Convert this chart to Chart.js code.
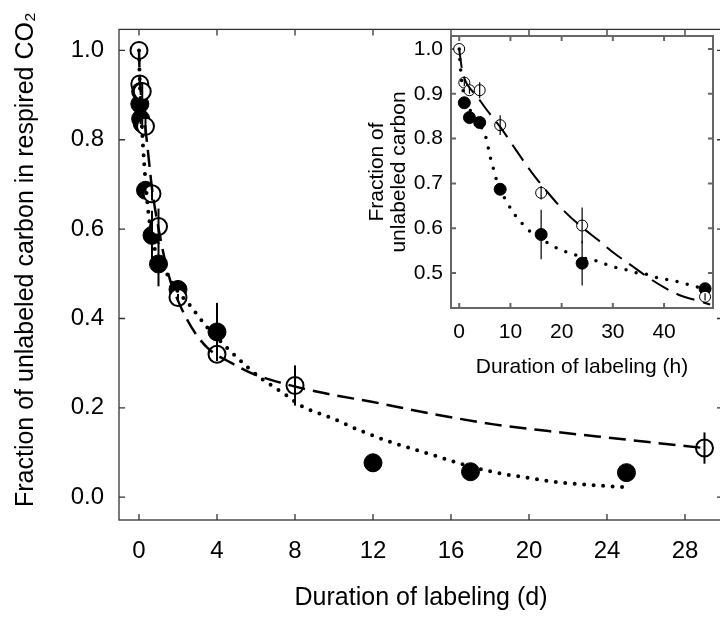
<!DOCTYPE html>
<html>
<head>
<meta charset="utf-8">
<script src="https://cdn.jsdelivr.net/npm/chart.js@4.4.1/dist/chart.umd.min.js"></script>
<style>
  html, body { margin: 0; padding: 0; background: #fff; overflow: hidden; }
  #wrap { position: relative; width: 720px; height: 617px; overflow: hidden; }
  #main { position: absolute; left: 0; top: 0; }
  #inset { position: absolute; left: 340px; top: 0; }
</style>
</head>
<body>
<div id="wrap">
  <canvas id="main" width="740" height="617"></canvas>
  <canvas id="inset" width="380" height="390"></canvas>
</div>
<script>
// hourly sampling (first two days), open = one treatment, filled = the other
const openHours = [0, 1, 2, 4, 8, 16, 24, 48]
const openHourFrac = [1.0, 0.925, 0.908, 0.908, 0.83, 0.679, 0.606, 0.447]
const openHourErr = [0, 0.008, 0.008, 0.018, 0.022, 0.015, 0.04, 0.008]
const filledHours = [1, 2, 4, 8, 16, 24, 48]
const filledHourFrac = [0.88, 0.847, 0.836, 0.687, 0.586, 0.522, 0.465]
const filledHourErr = [0.01, 0.012, 0.012, 0.01, 0.055, 0.05, 0.006]

// later sampling, in days
const openDays = [4, 8, 29]
const openDayFrac = [0.32, 0.25, 0.11]
const openDayErr = [0.015, 0.045, 0.035]
const filledDays = [4, 12, 17, 25]
const filledDayFrac = [0.37, 0.077, 0.057, 0.055]
const filledDayErr = [0.065, 0.02, 0.01, 0.005]

// fitted curves, days
const dashDays = [0, 0.04, 0.08, 0.17, 0.33, 0.5, 0.67, 1, 1.5, 2, 2.5, 3, 3.5, 4, 4.5, 5.7, 7.2, 9.6, 12, 15, 18.2, 21, 23.5, 26, 29]
const dashDayFrac = [1.0, 0.935, 0.914, 0.886, 0.826, 0.757, 0.69, 0.602, 0.5, 0.44, 0.395, 0.36, 0.335, 0.318, 0.306, 0.279, 0.257, 0.232, 0.213, 0.187, 0.163, 0.148, 0.136, 0.124, 0.11]
const dotDays = [0, 0.04, 0.1, 0.2, 0.33, 0.5, 0.75, 1, 1.5, 2, 2.6, 3.5, 4.5, 5.6, 6.3, 7.5, 8.3, 10, 11.3, 13, 14.8, 16.5, 18.2, 20, 21.6, 23.3, 25]
const dotDayFrac = [1.0, 0.93, 0.87, 0.79, 0.71, 0.63, 0.565, 0.535, 0.495, 0.46, 0.43, 0.38, 0.335, 0.29, 0.265, 0.23, 0.205, 0.175, 0.15, 0.122, 0.098, 0.075, 0.056, 0.043, 0.033, 0.027, 0.022]

// fitted curves, hours
const dashHours = [0, 0.5, 1, 1.5, 2, 3, 4, 5, 6, 8, 11, 14, 17.5, 20.7, 24, 27.2, 30.4, 33.6, 36.8, 40, 43.2, 46, 49]
const dashHourFrac = [1.0, 0.958, 0.935, 0.922, 0.914, 0.9, 0.886, 0.87, 0.855, 0.826, 0.776, 0.727, 0.677, 0.636, 0.602, 0.573, 0.543, 0.517, 0.491, 0.468, 0.45, 0.44, 0.43]
const dotHours = [0, 0.13, 0.3, 0.5, 0.8, 1.5, 2.5, 3.5, 4.6, 5.4, 5.8, 6.3, 6.9, 7.5, 9.5, 10.8, 12.5, 14.3, 16.4, 18.5, 20.4, 22.5, 24.5, 26.6, 28.8, 30.7, 32.8, 34.7, 36.8, 38.9, 40.8, 42.9, 44.9, 46.8, 48.6]
const dotHourFrac = [1.0, 0.975, 0.952, 0.927, 0.905, 0.878, 0.857, 0.84, 0.819, 0.795, 0.772, 0.748, 0.724, 0.7, 0.655, 0.631, 0.608, 0.588, 0.573, 0.559, 0.549, 0.541, 0.533, 0.528, 0.519, 0.512, 0.507, 0.5, 0.497, 0.489, 0.485, 0.48, 0.474, 0.468, 0.465]

// axis ticks
const mainXTicks = [0, 4, 8, 12, 16, 20, 24, 28]
const mainYTicks = [0, 0.2, 0.4, 0.6, 0.8, 1.0]
const insetXTicks = [0, 10, 20, 30, 40]
const insetYTicks = [0.5, 0.6, 0.7, 0.8, 0.9, 1.0]

const FONT = "'Liberation Sans', Arial, sans-serif"

const pts = (xs, ys) => xs.map((x, i) => ({ x, y: ys[i] }))
const toDays = (hs) => hs.map(h => h / 24)

// box around the plot with short inward ticks on every side
const frameTicks = {
  id: 'frameTicks',
  beforeDatasetsDraw (chart, args, opts) {
    const { ctx, chartArea: a, scales } = chart
    ctx.save()
    ctx.strokeStyle = opts.color
    ctx.lineWidth = opts.width
    ctx.strokeRect(a.left, a.top, a.right - a.left, a.bottom - a.top)
    ctx.beginPath()
    scales.x.ticks.forEach(t => {
      const px = scales.x.getPixelForValue(t.value)
      ctx.moveTo(px, a.bottom)
      ctx.lineTo(px, a.bottom - opts.len)
      ctx.moveTo(px, a.top)
      ctx.lineTo(px, a.top + opts.len)
    })
    scales.y.ticks.forEach(t => {
      const py = scales.y.getPixelForValue(t.value)
      ctx.moveTo(a.left, py)
      ctx.lineTo(a.left + opts.len, py)
      ctx.moveTo(a.right, py)
      ctx.lineTo(a.right - opts.len, py)
    })
    ctx.stroke()
    ctx.restore()
  }
}

// vertical error bars from each dataset's "errors" list
const errorBars = {
  id: 'errorBars',
  afterDatasetsDraw (chart, args, opts) {
    const { ctx } = chart
    const ys = chart.scales.y
    ctx.save()
    ctx.strokeStyle = '#000'
    ctx.lineWidth = opts.width
    chart.data.datasets.forEach((ds, i) => {
      if (!ds.errors) return
      chart.getDatasetMeta(i).data.forEach((pt, j) => {
        const e = ds.errors[j]
        if (!e) return
        const v = ds.data[j].y
        ctx.beginPath()
        ctx.moveTo(pt.x, ys.getPixelForValue(v - e))
        ctx.lineTo(pt.x, ys.getPixelForValue(v + e))
        ctx.stroke()
      })
    })
    ctx.restore()
  }
}

function curve (data, width, dash, cap) {
  return {
    type: 'line',
    data,
    borderColor: '#000',
    borderWidth: width,
    borderDash: dash,
    borderCapStyle: cap,
    pointRadius: 0,
    fill: false,
    cubicInterpolationMode: 'monotone'
  }
}

function markers (data, errors, filled, r, bw) {
  return {
    type: 'scatter',
    data,
    errors,
    pointStyle: 'circle',
    pointRadius: r,
    pointBorderWidth: bw,
    pointBorderColor: '#000',
    pointBackgroundColor: filled ? '#000' : '#fff'
  }
}

function axes (o) {
  return {
    x: {
      type: 'linear',
      min: o.xMin,
      max: o.xMax,
      afterFit: s => { s.height = o.xHeight },
      afterBuildTicks: s => { s.ticks = o.xTicks.map(value => ({ value })) },
      grid: { display: false, drawTicks: false },
      border: { display: false },
      ticks: { color: '#000', padding: o.xPad, maxRotation: 0, autoSkip: false, font: { family: FONT, size: o.tickSize } },
      title: { display: true, text: o.xTitle, color: '#000', padding: { top: 0, bottom: o.xTitlePad }, font: { family: FONT, size: o.titleSize } }
    },
    y: {
      type: 'linear',
      min: o.yMin,
      max: o.yMax,
      afterFit: s => { s.width = o.yWidth },
      afterBuildTicks: s => { s.ticks = o.yTicks.map(value => ({ value })) },
      grid: { display: false, drawTicks: false },
      border: { display: false },
      ticks: { color: '#000', padding: o.yPad, autoSkip: false, font: { family: FONT, size: o.tickSize }, callback: v => v.toFixed(1) },
      title: { display: true, text: o.yTitle, color: '#000', padding: { top: o.yTitlePad, bottom: 0 }, font: { family: FONT, size: o.titleSize, lineHeight: o.yTitleLine } }
    }
  }
}

new Chart(document.getElementById('main'), {
  data: {
    datasets: [
      curve(pts(dotDays, dotDayFrac), 4, [0, 9.5], 'round'),
      curve(pts(dashDays, dashDayFrac), 2.5, [17, 8], 'butt'),
      markers(pts(toDays(openHours).concat(openDays), openHourFrac.concat(openDayFrac)), openHourErr.concat(openDayErr), false, 8.5, 2),
      markers(pts(toDays(filledHours).concat(filledDays), filledHourFrac.concat(filledDayFrac)), filledHourErr.concat(filledDayErr), true, 9, 1)
    ]
  },
  options: {
    responsive: false,
    animation: false,
    events: [],
    layout: { padding: { top: 28, right: 17, left: 0, bottom: 0 } },
    plugins: {
      legend: { display: false },
      tooltip: { enabled: false },
      frameTicks: { color: '#333', width: 1.3, len: 6 },
      errorBars: { width: 2 }
    },
    scales: axes({
      xMin: -1.026, xMax: 29.95, xTicks: mainXTicks, xHeight: 97, xPad: 17, xTitlePad: 4,
      yMin: -0.051, yMax: 1.047, yTicks: mainYTicks, yWidth: 119, yPad: 15, yTitlePad: 11, yTitleLine: 1.2,
      tickSize: 24, titleSize: 25,
      xTitle: 'Duration of labeling (d)',
      // leading em space lifts the rotated label a little above the axis centre
      yTitle: '\u2003\u2009Fraction of unlabeled carbon in respired CO\u2082'
    })
  },
  plugins: [frameTicks, errorBars]
})

new Chart(document.getElementById('inset'), {
  data: {
    datasets: [
      curve(pts(dotHours, dotHourFrac), 3.5, [0, 10.5], 'round'),
      curve(pts(dashHours, dashHourFrac), 2, [19, 9], 'butt'),
      markers(pts(openHours, openHourFrac), openHourErr, false, 5.5, 1),
      markers(pts(filledHours, filledHourFrac), filledHourErr, true, 6, 1)
    ]
  },
  options: {
    responsive: false,
    animation: false,
    events: [],
    layout: { padding: { top: 36, right: 4, left: 0, bottom: 0 } },
    plugins: {
      legend: { display: false },
      tooltip: { enabled: false },
      frameTicks: { color: '#666', width: 2, len: 5 },
      errorBars: { width: 1.2 }
    },
    scales: axes({
      xMin: -1.6, xMax: 49.55, xTicks: insetXTicks, xHeight: 82, xPad: 12, xTitlePad: 10,
      yMin: 0.422, yMax: 1.029, yTicks: insetYTicks, yWidth: 111, yPad: 8, yTitlePad: 26.5, yTitleLine: 1.05,
      tickSize: 21, titleSize: 21,
      xTitle: 'Duration of labeling (h)',
      yTitle: ['Fraction of', 'unlabeled carbon']
    })
  },
  plugins: [frameTicks, errorBars]
})
</script>
</body>
</html>
